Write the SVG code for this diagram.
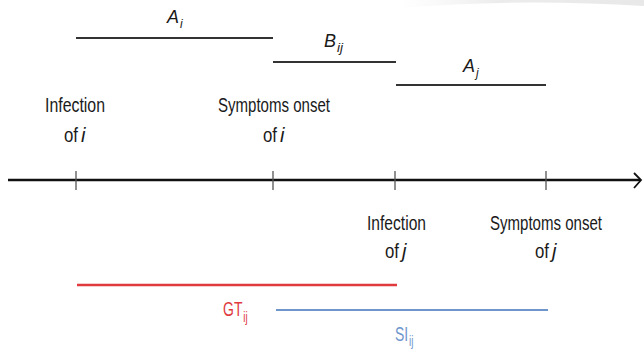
<svg xmlns="http://www.w3.org/2000/svg" width="644" height="349" viewBox="0 0 644 349">
<style>
.lbl{font-family:"Liberation Sans",Arial,sans-serif;font-size:20px;fill:#1a1a1a}
.it{font-style:italic}
.var{font-family:"Liberation Sans",Arial,sans-serif;font-size:19px;font-style:italic;fill:#1a1a1a}
.sub{font-family:"Liberation Sans",Arial,sans-serif;font-size:12px}
.sub2{font-family:"Liberation Sans",Arial,sans-serif;font-size:14px}
.seg{stroke:#333;stroke-width:2.2;fill:none}
.tick{stroke:#555;stroke-width:1.3}
.red{fill:#e03a3e}
.blue{fill:#6e96cd}
</style>
<defs>
<linearGradient id="sw" x1="0" y1="0" x2="1" y2="0">
<stop offset="0" stop-color="#f2f2f2" stop-opacity="0"/>
<stop offset="0.4" stop-color="#ececec"/>
<stop offset="1" stop-color="#e8e8e8"/>
</linearGradient>
</defs>
<rect width="644" height="349" fill="#fff"/>
<path d="M400 8 Q520 -2 644 6 L644 0 L400 0 Z" fill="url(#sw)"/>

<g id="connectors">
<line class="seg" x1="76" y1="38" x2="273" y2="38"/>
<line class="seg" x1="273" y1="62" x2="396" y2="62"/>
<line class="seg" x1="396" y1="85" x2="546" y2="85"/>
<line x1="8" y1="180" x2="640" y2="180" stroke="#111" stroke-width="2.5"/>
<polyline points="634,173 641,180 634,188" fill="none" stroke="#111" stroke-width="1.8"/>
<line class="tick" x1="76" y1="171" x2="76" y2="190"/>
<line class="tick" x1="273" y1="171" x2="273" y2="190"/>
<line class="tick" x1="395" y1="171" x2="395" y2="190"/>
<line class="tick" x1="546" y1="171" x2="546" y2="190"/>
<line x1="77" y1="285" x2="397" y2="285" stroke="#e03a3e" stroke-width="2.6"/>
<line x1="276" y1="310" x2="548" y2="310" stroke="#6e96cd" stroke-width="2"/>
</g>

<g id="Ai"><text class="var" x="167" y="23" textLength="12" lengthAdjust="spacingAndGlyphs">A</text><text class="var sub" x="180" y="28">i</text></g>
<g id="Bij"><text class="var" x="324" y="47" textLength="12" lengthAdjust="spacingAndGlyphs">B</text><text class="var sub" x="337" y="52" textLength="6" lengthAdjust="spacingAndGlyphs">ij</text></g>
<g id="Aj"><text class="var" x="463" y="72" textLength="12" lengthAdjust="spacingAndGlyphs">A</text><text class="var sub" x="476" y="77">j</text></g>

<g id="infection-i">
<text class="lbl" x="45" y="112" textLength="60" lengthAdjust="spacingAndGlyphs">Infection</text>
<text class="lbl" x="64" y="142" textLength="14" lengthAdjust="spacingAndGlyphs">of</text>
<text class="lbl it" x="81" y="142">i</text>
</g>
<g id="onset-i">
<text class="lbl" x="218" y="112" textLength="112" lengthAdjust="spacingAndGlyphs">Symptoms onset</text>
<text class="lbl" x="263" y="142" textLength="14" lengthAdjust="spacingAndGlyphs">of</text>
<text class="lbl it" x="280" y="142">i</text>
</g>
<g id="infection-j">
<text class="lbl" x="367" y="230" textLength="59" lengthAdjust="spacingAndGlyphs">Infection</text>
<text class="lbl" x="385" y="258" textLength="14" lengthAdjust="spacingAndGlyphs">of</text>
<text class="lbl it" x="402" y="258">j</text>
</g>
<g id="onset-j">
<text class="lbl" x="490" y="230" textLength="112" lengthAdjust="spacingAndGlyphs">Symptoms onset</text>
<text class="lbl" x="535" y="258" textLength="14" lengthAdjust="spacingAndGlyphs">of</text>
<text class="lbl it" x="552" y="258">j</text>
</g>

<g id="GT" transform="translate(223,316) scale(0.7,1)"><text class="lbl red" x="0" y="0">GT</text><text class="sub2 red" x="29" y="6">ij</text></g>
<g id="SI" transform="translate(395,341) scale(0.7,1)"><text class="lbl blue" x="0" y="0">SI</text><text class="sub2 blue" x="20" y="5">ij</text></g>
</svg>
